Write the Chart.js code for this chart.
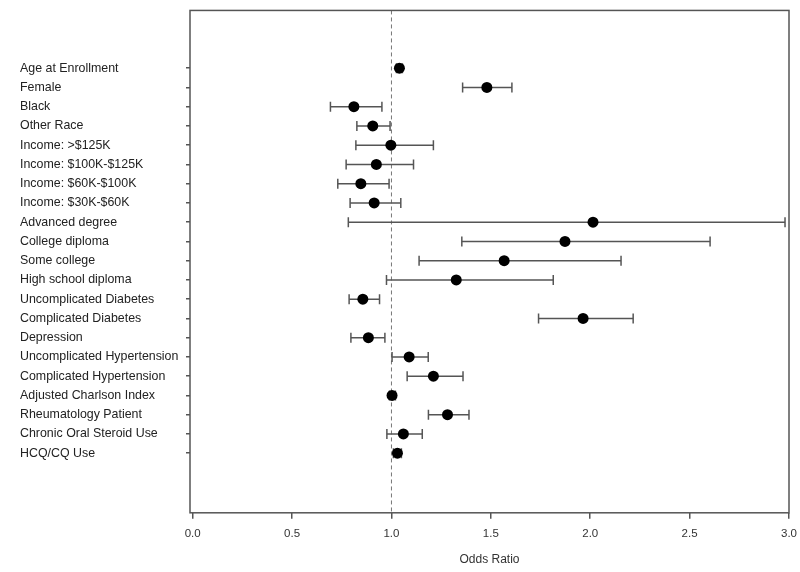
<!DOCTYPE html>
<html>
<head>
<meta charset="utf-8">
<script src="https://cdn.jsdelivr.net/npm/chart.js@4/dist/chart.umd.min.js"></script>
<style>
  html, body { margin: 0; padding: 0; background: #fff; }
  #wrap { width: 800px; height: 572px; }
</style>
</head>
<body>
<div id="wrap"><canvas id="myChart" width="800" height="572"></canvas></div>
<script>
'use strict';

//data
const rows = ['Age at Enrollment', 'Female', 'Black', 'Other Race', 'Income: >$125K', 'Income: $100K-$125K',
  'Income: $60K-$100K', 'Income: $30K-$60K', 'Advanced degree', 'College diploma', 'Some college',
  'High school diploma', 'Uncomplicated Diabetes', 'Complicated Diabetes', 'Depression',
  'Uncomplicated Hypertension', 'Complicated Hypertension', 'Adjusted Charlson Index',
  'Rheumatology Patient', 'Chronic Oral Steroid Use', 'HCQ/CQ Use'];
const oddsRatio = [1.04, 1.48, 0.811, 0.906, 0.997, 0.924, 0.846, 0.913, 2.014, 1.873, 1.567,
  1.326, 0.856, 1.964, 0.884, 1.089, 1.211, 1.003, 1.282, 1.06, 1.03];
const ciLower = [1.025, 1.358, 0.693, 0.826, 0.821, 0.772, 0.73, 0.792, 0.783, 1.354, 1.139,
  0.975, 0.787, 1.74, 0.796, 1.003, 1.079, 0.99, 1.186, 0.977, 1.01];
const ciUpper = [1.055, 1.606, 0.952, 0.993, 1.211, 1.111, 0.988, 1.047, 2.98, 2.603, 2.155,
  1.814, 0.94, 2.216, 0.967, 1.185, 1.36, 1.02, 1.39, 1.155, 1.05];
const xTicks = [0, 0.5, 1, 1.5, 2, 2.5, 3];
const refValue = 1;

//row positions on the vertical axis (first row sits 3 units below the top)
const rowOffset = 3;
const yMax = 26.1;

//draws the box round the plot area
const frame = {
  id: 'frame',
  afterDraw(chart) {
    const a = chart.chartArea;
    const ctx = chart.ctx;
    ctx.save();
    ctx.strokeStyle = '#555';
    ctx.lineWidth = 1.5;
    ctx.strokeRect(a.left, a.top, a.right - a.left, a.bottom - a.top);
    ctx.restore();
  }
};

function buildDatasets() {
  let sets = [];
  //points
  sets.push({
    data: oddsRatio.map((v, i) => ({ x: v, y: i + rowOffset })),
    showLine: false,
    pointRadius: 5.5,
    pointBackgroundColor: '#000',
    pointBorderColor: '#000',
    pointBorderWidth: 0,
    order: 0
  });
  //confidence intervals with caps
  for (let i = 0; i < rows.length; i++) {
    sets.push({
      data: [{ x: ciLower[i], y: i + rowOffset }, { x: ciUpper[i], y: i + rowOffset }],
      showLine: true,
      borderColor: '#555',
      borderWidth: 1.5,
      pointStyle: 'line',
      rotation: 90,
      pointRadius: 5,
      pointBorderColor: '#555',
      pointBorderWidth: 1.5,
      order: 1
    });
  }
  //reference line at OR = 1
  sets.push({
    data: [{ x: refValue, y: 0 }, { x: refValue, y: yMax }],
    showLine: true,
    borderColor: '#777',
    borderWidth: 1,
    borderDash: [4, 3],
    pointRadius: 0,
    order: 2
  });
  return sets;
}

const config = {
  type: 'scatter',
  data: { datasets: buildDatasets() },
  options: {
    responsive: false,
    animation: false,
    layout: { padding: { left: 20, right: 11, top: 8, bottom: 5 } },
    plugins: { legend: { display: false }, tooltip: { enabled: false } },
    scales: {
      x: {
        type: 'linear',
        min: -0.0135,
        max: 3.0,
        afterBuildTicks: (scale) => { scale.ticks = xTicks.map(v => ({ value: v })); },
        //let the layout padding alone set the right edge
        afterFit: (scale) => { scale.paddingRight = 0; },
        grid: { drawOnChartArea: false, drawTicks: true, tickLength: 6, color: '#555', lineWidth: 1.5 },
        border: { display: false },
        ticks: {
          color: '#333',
          font: { family: 'Liberation Sans', size: 11.5 },
          padding: 8,
          maxRotation: 0,
          callback: (v) => v.toFixed(1)
        },
        title: {
          display: true,
          text: 'Odds Ratio',
          color: '#333',
          font: { family: 'Liberation Sans', size: 12 },
          padding: { top: 4, bottom: 0 }
        }
      },
      y: {
        type: 'linear',
        reverse: true,
        min: 0,
        max: yMax,
        afterBuildTicks: (scale) => { scale.ticks = rows.map((_, i) => ({ value: i + rowOffset })); },
        afterFit: (scale) => { scale.width = 170; },
        grid: { drawOnChartArea: false, drawTicks: true, tickLength: 4, color: '#555', lineWidth: 1.5 },
        border: { display: false },
        ticks: {
          color: '#222',
          crossAlign: 'far',
          font: { family: 'Liberation Sans', size: 12.4 },
          callback: (v) => rows[Math.round(v) - rowOffset] || ''
        }
      }
    }
  },
  plugins: [frame]
};

const myChart = new Chart(document.getElementById('myChart'), config);
</script>
</body>
</html>
